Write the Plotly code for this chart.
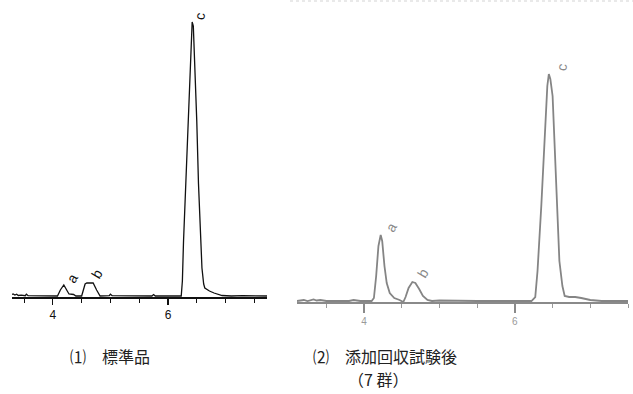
import plotly.graph_objects as go

W, H = 633, 394

# ---- data (retention time in min, response in arbitrary units) ----
std_time = [3.29, 3.31, 3.34, 3.37, 3.40, 3.45, 3.52, 3.54, 3.57, 3.80, 4.08, 4.13, 4.19, 4.24,
            4.28, 4.36, 4.40, 4.50, 4.56, 4.59, 4.70, 4.76, 4.82, 4.98, 5.00, 5.03, 5.72,
            5.75, 5.78, 6.23, 6.25, 6.27, 6.30, 6.33, 6.37, 6.40, 6.42, 6.44, 6.47, 6.50,
            6.53, 6.56, 6.59, 6.62, 6.64, 6.72, 6.80, 6.94, 7.10, 7.30, 7.72]
std_resp = [1.5, 2.0, 1.0, 1.8, 0.5, 0.8, 0.3, 1.8, 0.3, 0.3, 0.0, 6.0, 11.0, 6.0,
            2.0, 1.5, 0.0, 0.0, 12.0, 13.0, 13.0, 6.0, 0.0, 0.3, 1.8, 0.3, 0.0,
            1.5, 0.0, 0.0, 15.0, 55.0, 100.0, 145.0, 210.0, 260.0, 274.0, 270.0, 225.0, 175.0,
            112.0, 62.0, 28.0, 12.0, 8.0, 5.0, 3.0, 0.5, 0.0, 0.3, 0.0]

spk_time = [3.11, 3.20, 3.25, 3.33, 3.37, 3.42, 3.50, 3.70, 3.80, 3.86, 3.95, 4.10, 4.13, 4.16,
            4.19, 4.22, 4.24, 4.27, 4.30, 4.34, 4.40, 4.47, 4.52, 4.55, 4.59, 4.64, 4.68,
            4.73, 4.78, 4.84, 4.90, 5.00, 5.20, 5.50, 6.00, 6.22, 6.27, 6.30, 6.35, 6.40,
            6.43, 6.45, 6.47, 6.50, 6.53, 6.56, 6.59, 6.63, 6.66, 6.72, 6.80, 6.88, 7.00,
            7.15, 7.50]
spk_resp = [0.0, 1.0, 0.0, 1.5, 0.5, 1.0, 0.0, 0.5, 0.0, 1.0, 0.0, 0.0, 3.0, 25.0,
            55.0, 66.0, 60.0, 35.0, 18.0, 8.0, 3.0, 1.0, -1.0, 4.0, 13.0, 19.0, 18.0,
            12.0, 5.0, 1.0, 0.0, 0.5, 0.0, 0.0, 0.0, 0.0, 4.0, 30.0, 95.0, 170.0,
            215.0, 227.0, 222.0, 205.0, 150.0, 85.0, 40.0, 15.0, 5.0, 4.0, 4.0, 3.0, 1.0,
            0.0, 0.0]

peak_labels = ["a", "b", "c"]
std_label_pos = [(4.34, 18), (4.76, 22), (6.55, 280)]
spk_label_pos = [(4.36, 74), (4.78, 28), (6.62, 234)]

tick_vals = [4, 6]
tick_text = ["4", "6"]
captions = ["⑴　標準品", "⑵　添加回収試験後", "（7 群）"]


def fx(px):
    return px / W


def fy(py):
    return 1 - py / H


fig = go.Figure()
fig.add_trace(go.Scatter(x=std_time, y=std_resp, mode="lines",
                         line=dict(color="#111111", width=1.3), xaxis="x", yaxis="y",
                         showlegend=False, hoverinfo="skip"))
fig.add_trace(go.Scatter(x=spk_time, y=spk_resp, mode="lines",
                         line=dict(color="#858585", width=1.8), xaxis="x2", yaxis="y2",
                         showlegend=False, hoverinfo="skip"))

axis_common = dict(showgrid=False, zeroline=False, showline=True, ticks="outside",
                   tickmode="array", tickvals=tick_vals, ticktext=tick_text)

fig.update_layout(
    width=W, height=H, margin=dict(l=0, r=0, t=0, b=0),
    paper_bgcolor="white", plot_bgcolor="white",
    xaxis=dict(domain=[fx(12), fx(267)], range=[3.29, 7.72], anchor="y",
               linecolor="#111111", linewidth=1.5, ticklen=6, tickwidth=1.2,
               tickcolor="#111111",
               tickfont=dict(family="Liberation Sans, Arial", size=12, color="#111111"),
               minor=dict(dtick=0.5, tick0=0, ticks="outside", ticklen=4,
                          tickcolor="#111111", tickwidth=1),
               **axis_common),
    yaxis=dict(domain=[fy(297), fy(8)], range=[-1, 288], anchor="x",
               visible=False, showgrid=False, zeroline=False),
    xaxis2=dict(domain=[fx(297), fx(628)], range=[3.11, 7.50], anchor="y2",
                linecolor="#8a8a8a", linewidth=1.8, ticklen=9, tickwidth=1.3,
                tickcolor="#8a8a8a",
                tickfont=dict(family="Liberation Sans, Arial", size=10, color="#9a9a9a"),
                minor=dict(dtick=0.5, tick0=0, ticks="outside", ticklen=4,
                           tickcolor="#9a9a9a", tickwidth=1),
                **axis_common),
    yaxis2=dict(domain=[fy(302), fy(52)], range=[-1, 249], anchor="x2",
                visible=False, showgrid=False, zeroline=False),
    shapes=[dict(type="line", xref="paper", yref="paper", x0=fx(290), x1=1,
                 y0=fy(1), y1=fy(1), line=dict(color="#e2e2e2", width=1.5, dash="dot"))],
)

anns = []
for lab, (x, y) in zip(peak_labels, std_label_pos):
    anns.append(dict(x=x, y=y, xref="x", yref="y", text=lab, showarrow=False,
                     textangle=-60 if lab != "c" else -80,
                     font=dict(family="Liberation Sans, Arial", size=14, color="#111111")))
for lab, (x, y) in zip(peak_labels, spk_label_pos):
    anns.append(dict(x=x, y=y, xref="x2", yref="y2", text=lab, showarrow=False,
                     textangle=-60 if lab != "c" else -80,
                     font=dict(family="Liberation Sans, Arial", size=14, color="#8a8a8a")))

cap_pos = [(110, 356), (385, 356), (378, 379)]
for txt, (px, py) in zip(captions, cap_pos):
    anns.append(dict(x=fx(px), y=fy(py), xref="paper", yref="paper", text=txt,
                     showarrow=False, xanchor="center", yanchor="middle",
                     font=dict(family="Noto Sans CJK JP", size=16, color="#222222")))
fig.update_layout(annotations=anns)

fig.write_html("out.html", config={"displayModeBar": False, "staticPlot": True},
               post_script="document.body.style.margin='0px';document.body.style.overflow='hidden';")
